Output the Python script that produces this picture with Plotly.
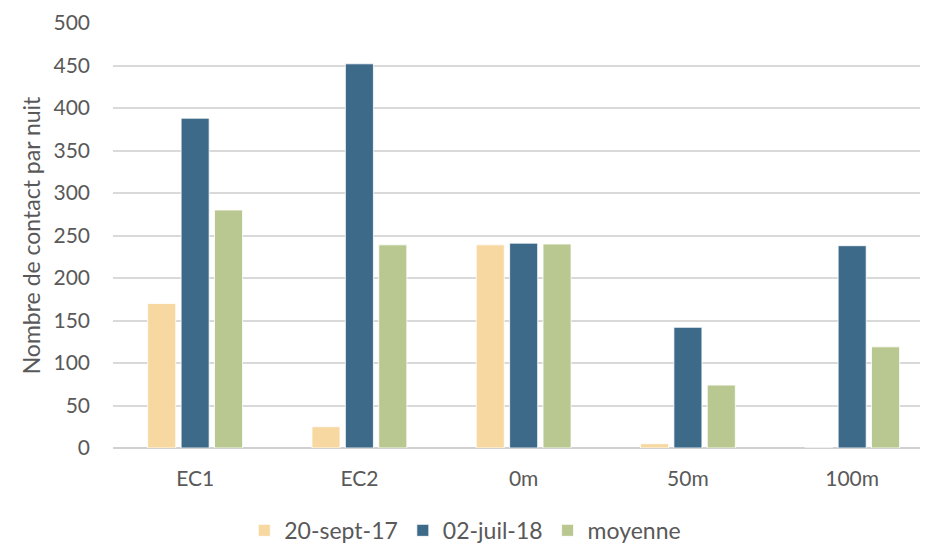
import plotly.graph_objects as go

categories = ["EC1", "EC2", "0m", "50m", "100m"]
sept_17 = [170, 25, 239, 5, 0]
juil_18 = [388, 452, 241, 142, 238]
moyenne = [280, 239, 240, 74, 119]

series = [
    ("20-sept-17", sept_17, "#F7D8A1"),
    ("02-juil-18", juil_18, "#3E6A89"),
    ("moyenne", moyenne, "#B9C891"),
]

font_family = "Lato, 'Open Sans', sans-serif"
grey = "#595959"

fig = go.Figure()
for name, vals, color in series:
    fig.add_trace(go.Bar(
        x=categories, y=vals, name=name,
        marker=dict(color=color, line=dict(color="rgba(255,255,255,0.8)", width=1)),
    ))

fig.update_layout(
    width=925, height=544,
    margin=dict(l=113, r=5, t=23, b=96, autoexpand=False),
    paper_bgcolor="white", plot_bgcolor="white",
    barmode="group", bargap=0.39, bargroupgap=0.16,
    font=dict(family=font_family, color=grey, size=20),
    showlegend=True,
    legend=dict(orientation="h", xref="container", yref="container",
                x=0.503, xanchor="center", y=0.025, yanchor="middle",
                font=dict(size=23, color=grey), itemwidth=30, traceorder="normal"),
    xaxis=dict(range=[-0.5, 4.413], showgrid=False, showline=False, ticks="",
               ticklabelstandoff=16, tickfont=dict(size=21, color=grey)),
    yaxis=dict(range=[0, 500], dtick=50, showgrid=True, gridcolor="#D9D9D9", gridwidth=1.5,
               zeroline=True, zerolinecolor="#D0D0D0", zerolinewidth=2,
               ticks="", ticklabelstandoff=22,
               tickfont=dict(size=21, color=grey),
               title=dict(text="Nombre de contact par nuit", font=dict(size=23, color=grey),
                          standoff=6)),
)

fig.write_html("out.html")
